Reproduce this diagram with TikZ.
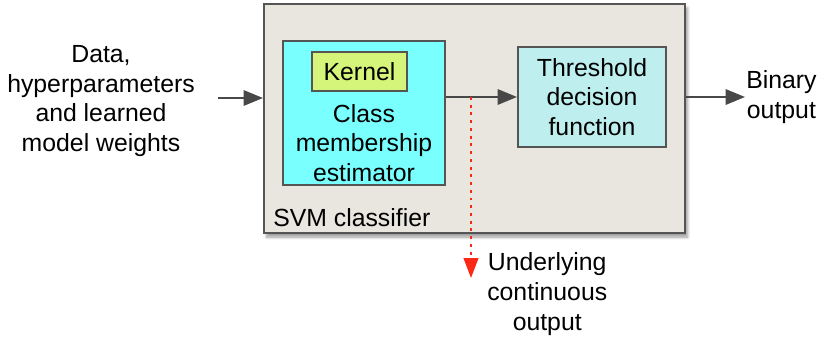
\documentclass[tikz,border=0pt]{standalone}
\usepackage{fontspec}
\setmainfont{Liberation Sans}
\usepackage{xcolor}
\usepackage{tikz}
\usetikzlibrary{arrows.meta,shadows.blur}

\definecolor{boxline}{RGB}{85,85,85}
\definecolor{svmfill}{RGB}{233,230,223}
\definecolor{clsfill}{RGB}{122,255,255}
\definecolor{kernfill}{RGB}{212,245,122}
\definecolor{thrfill}{RGB}{190,238,238}
\definecolor{tapred}{RGB}{250,40,20}

\tikzset{
  blockbox/.style={draw=boxline,line width=1.5pt,inner sep=0pt},
  lbl/.style={inner sep=0.75pt,align=center,font=\fontsize{18.6}{22.2}\selectfont},
  flow/.style={draw=boxline!85!black,line width=1.5pt,-{Triangle[length=14.5pt,width=11.5pt]}},
  tap/.style={draw=tapred,line width=1.6pt,dash pattern=on 2.2pt off 3.6pt,-{Triangle[length=15pt,width=11pt,fill=tapred]}}
}

\begin{document}
\begin{tikzpicture}[x=0.75pt,y=0.75pt,yscale=-1,xscale=1]
        \useasboundingbox (0,0) rectangle (820,339);
        % SVM classifier box
        \node[blockbox,fill=svmfill,minimum width=315.75pt,minimum height=171.75pt,
              blur shadow={shadow xshift=2pt,shadow yshift=-3pt,shadow blur steps=6}] (svm) at (474.5,118.5) {};
        \node[lbl,anchor=west] (svmlbl) at (272,218) {SVM classifier};
        % class membership estimator
        \node[blockbox,fill=clsfill,minimum width=121.5pt,minimum height=108pt] (cls) at (364,113) {};
        \node[blockbox,fill=kernfill,minimum width=71.25pt,minimum height=29.25pt] (kern) at (359.5,71.5) {};
        \node[lbl] (kernlbl) at (kern.center) {Kernel};
        \node[lbl] (clslbl) at (364,143) {Class\\membership\\estimator};
        % threshold
        \node[blockbox,fill=thrfill,minimum width=111pt,minimum height=75pt] (thr) at (592,97) {};
        \node[lbl] (thrlbl) at (thr.center) {Threshold\\decision\\function};
        % Text Node
        \node[lbl] (data) at (101,101) {Data,\\hyperparameters\\and learned\\model weights};
        % Text Node
        \node[lbl,anchor=west] (bin) at (745,97) {Binary\\output};
        % Text Node
        \node[lbl,anchor=west] (und) at (486,294) {Underlying\\continuous\\output};
        % connectors
        \coordinate (datain) at (218,98);
        \coordinate (tapin) at (471,97);
        \coordinate (tapout) at (471,278);
        \draw[flow] (datain) -- (datain -| svm.west);
        \draw[flow] (thr.west -| cls.east) -- (thr.west);
        \draw[flow] (thr.east -| svm.east) -- (bin.west);
        \draw[tap] (tapin) -- (tapout);
\end{tikzpicture}
\end{document}
